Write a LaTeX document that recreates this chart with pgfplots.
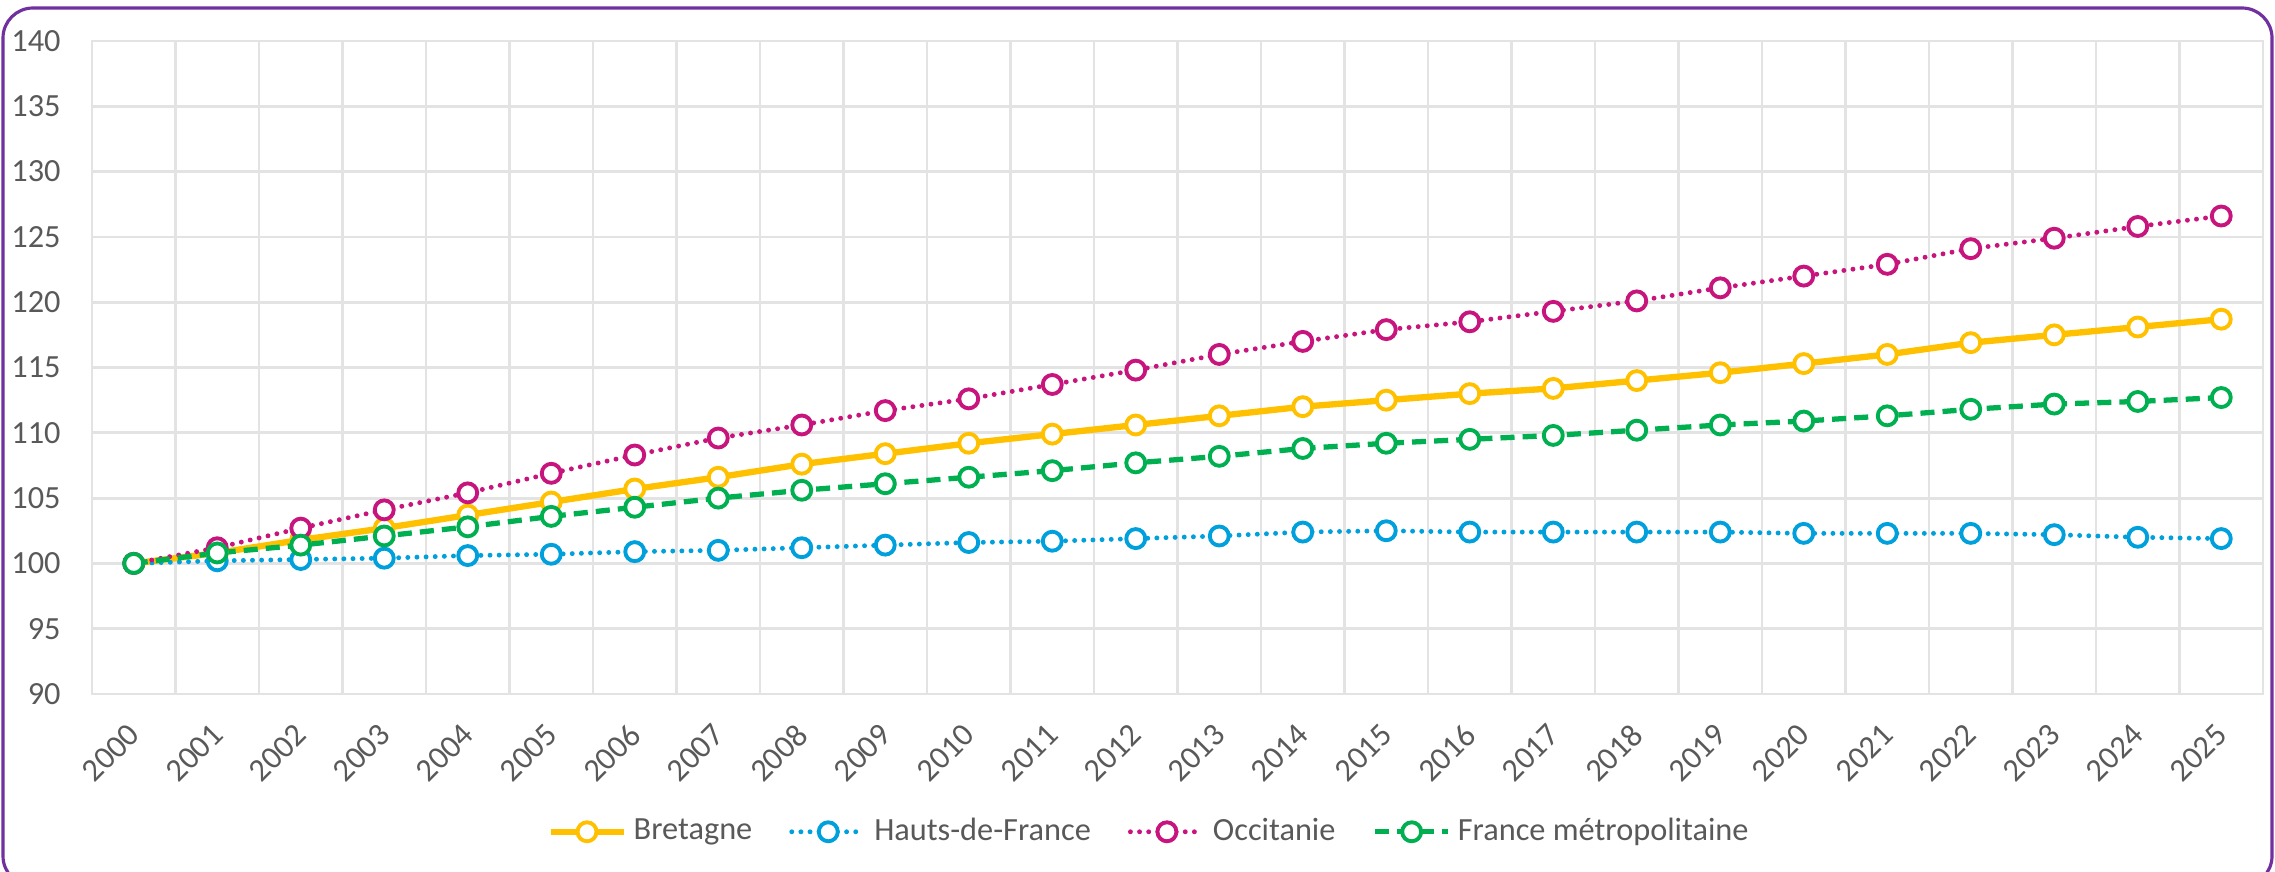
\documentclass[border=0pt]{standalone}
\usepackage{pgfplots}
\pgfplotsset{compat=1.18}
\usepackage{pgfplotstable}
\usepackage{fontspec}
\setmainfont{Carlito}
\definecolor{cbre}{HTML}{FFC000}
\definecolor{chdf}{HTML}{00A0DC}
\definecolor{cocc}{HTML}{C8157D}
\definecolor{cfra}{HTML}{00B050}
\definecolor{cgrid}{HTML}{E3E3E3}
\definecolor{ctext}{HTML}{595959}
\definecolor{cborder}{HTML}{7030A0}

\pgfplotstableread{
year bre hdf occ fra
2000 100.0 100.0 100.0 100.0
2001 100.8 100.2 101.2 100.8
2002 101.8 100.3 102.7 101.4
2003 102.7 100.4 104.1 102.1
2004 103.7 100.6 105.4 102.8
2005 104.7 100.7 106.9 103.6
2006 105.7 100.9 108.3 104.3
2007 106.6 101.0 109.6 105.0
2008 107.6 101.2 110.6 105.6
2009 108.4 101.4 111.7 106.1
2010 109.2 101.6 112.6 106.6
2011 109.9 101.7 113.7 107.1
2012 110.6 101.9 114.8 107.7
2013 111.3 102.1 116.0 108.2
2014 112.0 102.4 117.0 108.8
2015 112.5 102.5 117.9 109.2
2016 113.0 102.4 118.5 109.5
2017 113.4 102.4 119.3 109.8
2018 114.0 102.4 120.1 110.2
2019 114.6 102.4 121.1 110.6
2020 115.3 102.3 122.0 110.9
2021 116.0 102.3 122.9 111.3
2022 116.9 102.3 124.1 111.8
2023 117.5 102.2 124.9 112.2
2024 118.1 102.0 125.8 112.4
2025 118.7 101.9 126.6 112.7
}\data

\begin{document}
\begin{tikzpicture}
\useasboundingbox (0,0) rectangle (22.75cm,8.71cm);
\begin{axis}[
  at={(0.92cm,1.77cm)}, anchor=south west,
  scale only axis, width=21.71cm, height=6.53cm,
  xmin=1999.5, xmax=2025.5, ymin=90, ymax=140,
  xtick={2000,2001,...,2025},
  ytick={90,95,...,140},
  minor xtick={1999.5,2000.5,...,2025.5},
  xminorgrids=true, ymajorgrids=true, xmajorgrids=false,
  grid style={cgrid, line width=0.8pt},
  minor grid style={cgrid, line width=0.8pt},
  axis line style={cgrid, line width=0.8pt},
  major tick length=0pt, minor tick length=0pt,
  /pgf/number format/assume math mode=true,
  /pgf/number format/1000 sep={},
  tick label style={font=\fontsize{9.2}{11}\selectfont, text=ctext},
  yticklabel style={xshift=-1.9mm},
  xticklabel style={xshift=0.9mm, yshift=-2.7mm, rotate=45, anchor=east},
  legend columns=4,
  legend style={at={(0.488,-0.211)}, anchor=center, draw=none, fill=none,
    font=\fontsize{9.2}{11}\selectfont, text=ctext,
    /tikz/every even column/.append style={column sep=0.3cm}},
  legend image code/.code={\draw[mark repeat=2, mark phase=2, #1] plot coordinates {(0cm,0cm) (0.365cm,0cm) (0.73cm,0cm)};},
  every axis plot/.append style={mark=*, mark size=2.7pt, mark options={solid, fill=white, line width=1.1pt}},
]
\addplot[cbre, line width=1.8pt] table[x=year, y=bre] {\data};
\addlegendentry{Bretagne}
\addplot[chdf, line width=1.4pt, line cap=round, dash pattern=on 0pt off 2.6pt] table[x=year, y=hdf] {\data};
\addlegendentry{Hauts-de-France}
\addplot[cocc, line width=1.4pt, line cap=round, dash pattern=on 0pt off 2.6pt] table[x=year, y=occ] {\data};
\addlegendentry{Occitanie}
\addplot[cfra, line width=1.5pt, dash pattern=on 4pt off 2.3pt] table[x=year, y=fra] {\data};
\addlegendentry{France métropolitaine}
\end{axis}
\begin{scope}
\clip (0,0) rectangle (22.75cm,8.71cm);
\draw[cborder, line width=0.9pt, rounded corners=0.3cm] (0.03cm,-0.15cm) rectangle (22.72cm,8.63cm);
\end{scope}
\end{tikzpicture}
\end{document}
